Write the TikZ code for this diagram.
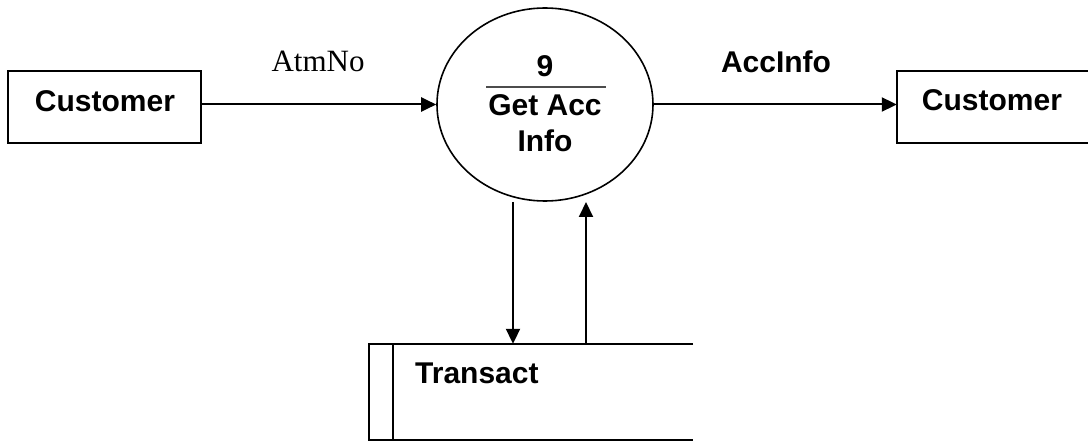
\documentclass[tikz,border=0pt]{standalone}
\usepackage{fontspec}
\setmainfont{Liberation Sans}
\newfontfamily\serifface{Liberation Serif}
\usetikzlibrary{arrows.meta,shapes.geometric,calc}
\tikzset{
  box/.style={draw=black,line width=2pt,minimum width=193pt,minimum height=72pt,inner sep=0pt},
  openbox/.style={draw=none,inner sep=0pt},
  proc/.style={draw=black,ellipse,line width=1.6pt,minimum width=216pt,minimum height=193pt,inner sep=0pt},
  flow/.style={line width=2pt,-{Triangle[length=15pt,width=14pt]}},
  edgeline/.style={line width=2pt},
  lbl/.style={font=\fontsize{30}{35}\selectfont\bfseries,anchor=base,inner sep=0pt},
  slbl/.style={font=\fontsize{31}{36}\selectfont\serifface,anchor=base,inner sep=0pt}
}
\begin{document}
\begin{tikzpicture}[x=1pt,y=-1pt]
\useasboundingbox (0,0) rectangle (1088,441);
\clip (0,0) rectangle (1088,441);
\fill[white] (0,0) rectangle (1088,441);
% left customer
\node[box] (lc) at (104.5,107) {};
\node[lbl] (lct) at (105,111.5) {Customer};
% process
\node[proc] (p) at (545,104.5) {};
\node[lbl] (pn) at (545,76.5) {9};
\coordinate (bl) at (486,87);
\coordinate (br) at (606,87);
\draw[line width=2pt,black!70] (bl) -- (br);
\node[lbl] (pt1) at (545,116) {Get Acc};
\node[lbl] (pt2) at (545,152) {Info};
% right customer
\node[openbox,minimum width=220pt,minimum height=72pt] (rc) at (1007,107) {};
\draw[edgeline] (rc.north east) -- (rc.north west) -- (rc.south west) -- (rc.south east);
\node[lbl] (rct) at (992,111) {Customer};
% store
\node[openbox,minimum width=324pt,minimum height=96pt] (st) at (531,392) {};
\draw[edgeline] (st.north east) -- (st.north west) -- (st.south west) -- (st.south east);
\coordinate (sdiv) at (393,344);
\draw[edgeline] (sdiv) -- (sdiv |- st.south);
\node[lbl,anchor=base west] (stt) at (415,383) {Transact};
% flows
\draw[flow] (lc.east |- p.west) -- (p.west);
\node[slbl] (l1) at (318,71.5) {AtmNo};
\draw[flow] (p.east) -- (rc.west |- p.east);
\node[lbl] (l2) at (776,72.5) {AccInfo};
\coordinate (d1) at (513,202);
\coordinate (u1) at (586,202);
\draw[flow] (d1) -- (d1 |- st.north);
\draw[flow] (u1 |- st.north) -- (u1);
\end{tikzpicture}
\end{document}
